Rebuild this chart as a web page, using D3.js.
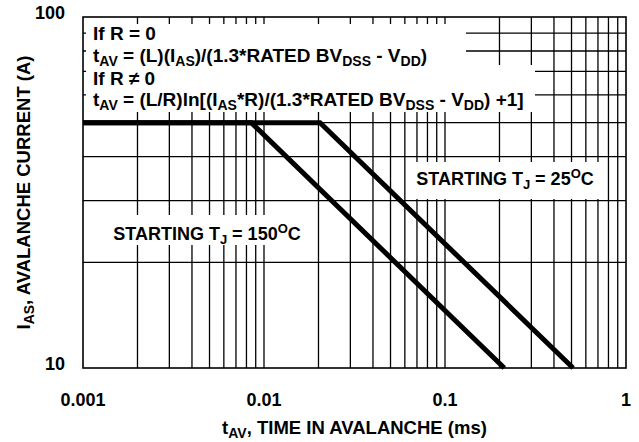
<!DOCTYPE html>
<html><head><meta charset="utf-8">
<script src="https://cdn.jsdelivr.net/npm/d3@7"></script>
<style>
html,body{margin:0;padding:0;background:#fff;}
svg text{font-family:"Liberation Sans",Arial,sans-serif;font-weight:bold;fill:#000;}
</style></head>
<body><svg id="c" width="639" height="442"></svg>
<script>
// ---- data ----
const xDomain = [0.001, 1];
const yDomain = [10, 100];
const xTickValues = [0.001, 0.01, 0.1, 1];
const xTickLabels = ["0.001", "0.01", "0.1", "1"];
const yTickValues = [10, 100];
const yTickLabels = ["10", "100"];
const xGridValues = [0.002,0.003,0.004,0.005,0.006,0.007,0.008,0.009,0.01,
                     0.02,0.03,0.04,0.05,0.06,0.07,0.08,0.09,0.1,
                     0.2,0.3,0.4,0.5,0.6,0.7,0.8,0.9];
const yGridValues = [20,30,40,50,60,70,80,90];
const tj150Time = [0.001, 0.0085, 0.2125];
const tj150Current = [50, 50, 10];
const tj25Time = [0.001, 0.0204, 0.51];
const tj25Current = [50, 50, 10];

// ---- layout ----
const svg = d3.select("#c");
const L = 83, R = 626, T = 17, B = 368;
const x = d3.scaleLog().domain(xDomain).range([L, R]);
const y = d3.scaleLog().domain(yDomain).range([B, T]);

function rich(sel, parts, fs, sub) {
  sel.attr("font-size", fs);
  let shift = 0;
  parts.forEach(p => {
    const ts = sel.append("tspan").text(p.t);
    let target = p.sub ? 4 : (p.sup ? -7 : 0);
    ts.attr("dy", target - shift);
    shift = target;
    if (p.sub || p.sup) ts.attr("font-size", sub);
  });
  return sel;
}

// gridlines
const g = svg.append("g");
g.selectAll(".vx").data(xGridValues).join("line")
  .attr("x1", d => x(d)).attr("x2", d => x(d)).attr("y1", T).attr("y2", B)
  .attr("stroke", "#000").attr("stroke-width", 1.3);
g.selectAll(".hy").data(yGridValues).join("line")
  .attr("y1", d => y(d)).attr("y2", d => y(d)).attr("x1", L).attr("x2", R)
  .attr("stroke", "#000").attr("stroke-width", 1.3);

// white backing boxes for annotations
const boxes = [
  {x0:86, x1:466, y0:24, y1:65},
  {x0:86, x1:535, y0:65, y1:112},
  {x0:110, x1:308, y0:215, y1:245},
  {x0:407, x1:605, y0:162, y1:199}
];
svg.selectAll(".bx").data(boxes).join("rect")
  .attr("x", d => d.x0).attr("y", d => d.y0)
  .attr("width", d => d.x1 - d.x0).attr("height", d => d.y1 - d.y0)
  .attr("fill", "#fff");

// frame
svg.append("rect").attr("x", L).attr("y", T).attr("width", R - L).attr("height", B - T)
  .attr("fill", "none").attr("stroke", "#000").attr("stroke-width", 1.6);

// data lines
const line = d3.line().x(d => x(d[0])).y(d => y(d[1]));
[[tj150Time, tj150Current], [tj25Time, tj25Current]].forEach(([ts, is]) => {
  svg.append("path").datum(d3.zip(ts, is)).attr("d", line)
    .attr("fill", "none").attr("stroke", "#000").attr("stroke-width", 5)
    .attr("stroke-linejoin", "miter").attr("stroke-linecap", "butt");
});

// tick labels
svg.selectAll(".xl").data(xTickValues).join("text")
  .attr("x", d => x(d)).attr("y", 406).attr("text-anchor", "middle")
  .attr("font-size", 18).text((d, i) => xTickLabels[i]);
svg.selectAll(".yl").data(yTickValues).join("text")
  .attr("x", 65).attr("y", d => y(d) + 2).attr("text-anchor", "end")
  .attr("font-size", 18).text((d, i) => yTickLabels[i]);

// annotation text
const ann = svg.append("g");
rich(ann.append("text").attr("x", 93).attr("y", 40), [{t:"If R = 0"}], 19, 14);
rich(ann.append("text").attr("x", 93).attr("y", 61.5), [
  {t:"t"},{t:"AV",sub:1},{t:" = (L)(I"},{t:"AS",sub:1},{t:")/(1.3*RATED BV"},{t:"DSS",sub:1},{t:" - V"},{t:"DD",sub:1},{t:")"}], 19, 14);
rich(ann.append("text").attr("x", 93).attr("y", 84.5), [{t:"If R \u2260 0"}], 19, 14);
rich(ann.append("text").attr("x", 93).attr("y", 106), [
  {t:"t"},{t:"AV",sub:1},{t:" = (L/R)ln[(I"},{t:"AS",sub:1},{t:"*R)/(1.3*RATED BV"},{t:"DSS",sub:1},{t:" - V"},{t:"DD",sub:1},{t:") +1]"}], 19, 14);

rich(ann.append("text").attr("x", 207).attr("y", 240).attr("text-anchor", "middle"), [
  {t:"STARTING T"},{t:"J",sub:1},{t:" = 150"},{t:"O",sup:1},{t:"C"}], 18, 13);
rich(ann.append("text").attr("x", 505).attr("y", 185).attr("text-anchor", "middle"), [
  {t:"STARTING T"},{t:"J",sub:1},{t:" = 25"},{t:"O",sup:1},{t:"C"}], 18, 13);

// axis titles
rich(svg.append("text").attr("x", (L + R) / 2).attr("y", 434).attr("text-anchor", "middle"), [
  {t:"t"},{t:"AV",sub:1},{t:", TIME IN AVALANCHE (ms)"}], 18.5, 14);
rich(svg.append("text").attr("transform", `translate(30,${(T + B) / 2}) rotate(-90)`).attr("text-anchor", "middle"), [
  {t:"I"},{t:"AS",sub:1},{t:", AVALANCHE CURRENT (A)"}], 18.5, 14);
</script></body></html>
